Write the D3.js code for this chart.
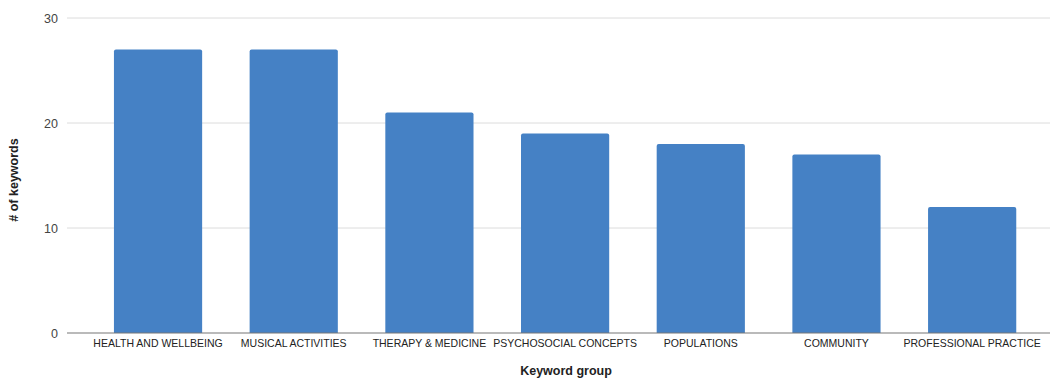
<!DOCTYPE html>
<html>
<head>
<meta charset="utf-8">
<script src="https://cdn.jsdelivr.net/npm/d3@7"></script>
<style>
  html, body { margin: 0; padding: 0; background: #fff; }
  svg { display: block; font-family: "Liberation Sans", Arial, sans-serif; }
</style>
</head>
<body>
<svg id="chart" width="1054" height="383"></svg>
<script>
// Keyword groups and the number of keywords in each
const categories = [
  "HEALTH AND WELLBEING",
  "MUSICAL ACTIVITIES",
  "THERAPY & MEDICINE",
  "PSYCHOSOCIAL CONCEPTS",
  "POPULATIONS",
  "COMMUNITY",
  "PROFESSIONAL PRACTICE"
];
const counts = [27, 27, 21, 19, 18, 17, 12];
const yTicks = [0, 10, 20, 30];

const svg = d3.select("#chart");

const x = d3.scaleBand()
  .domain(categories)
  .range([90.2, 1040])
  .paddingInner(0.35)
  .paddingOuter(0.175);

const y = d3.scaleLinear()
  .domain([0, 30])
  .range([333, 18]);

const gridLeft = 67, gridRight = 1050;

// Horizontal gridlines
svg.append("g")
  .selectAll("line")
  .data(yTicks.filter(t => t !== 0))
  .join("line")
  .attr("x1", gridLeft).attr("x2", gridRight)
  .attr("y1", d => y(d)).attr("y2", d => y(d))
  .attr("stroke", "#dcdcdc")
  .attr("stroke-width", 1);

// Y tick labels
svg.append("g")
  .selectAll("text")
  .data(yTicks)
  .join("text")
  .attr("x", 58)
  .attr("y", d => y(d))
  .attr("dy", "0.36em")
  .attr("text-anchor", "end")
  .attr("font-size", 12.5)
  .attr("fill", "#444")
  .text(d => d);

// Bars
const data = categories.map((c, i) => ({ c, v: counts[i] }));
svg.append("g")
  .selectAll("path")
  .data(data)
  .join("path")
  .attr("fill", "#4581c5")
  .attr("d", d => {
    const x0 = x(d.c), w = x.bandwidth(), y0 = y(d.v), y1 = y(0), r = 2;
    return `M${x0},${y1}V${y0 + r}Q${x0},${y0} ${x0 + r},${y0}H${x0 + w - r}Q${x0 + w},${y0} ${x0 + w},${y0 + r}V${y1}Z`;
  });

// Baseline
svg.append("line")
  .attr("x1", gridLeft).attr("x2", gridRight)
  .attr("y1", y(0)).attr("y2", y(0))
  .attr("stroke", "#777")
  .attr("stroke-width", 1.2);

// Category labels
svg.append("g")
  .selectAll("text")
  .data(categories)
  .join("text")
  .attr("x", d => x(d) + x.bandwidth() / 2)
  .attr("y", 347)
  .attr("text-anchor", "middle")
  .attr("font-size", 10.5)
  .attr("fill", "#222")
  .text(d => d);

// Axis titles
svg.append("text")
  .attr("x", 566)
  .attr("y", 375)
  .attr("text-anchor", "middle")
  .attr("font-size", 12.5)
  .attr("font-weight", "bold")
  .attr("fill", "#222")
  .text("Keyword group");

svg.append("text")
  .attr("transform", "translate(18,180) rotate(-90)")
  .attr("text-anchor", "middle")
  .attr("font-size", 12.5)
  .attr("font-weight", "bold")
  .attr("fill", "#222")
  .text("# of keywords");
</script>
</body>
</html>
